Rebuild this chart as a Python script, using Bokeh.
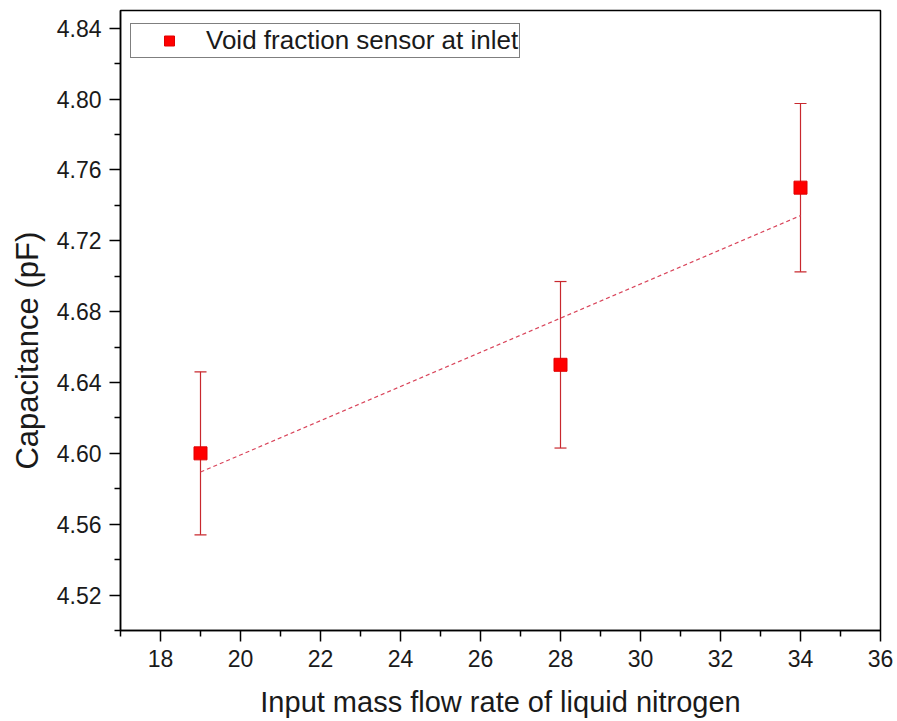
import numpy as np
from bokeh.plotting import figure
from bokeh.models import (ColumnDataSource, Whisker, TeeHead, FixedTicker,
                          PrintfTickFormatter, Legend, LegendItem, Range1d)
from bokeh.embed import file_html
from bokeh.resources import INLINE

# ---- data ----
flow_rate = [19, 28, 34]
capacitance = [4.60, 4.65, 4.75]
cap_error = [0.046, 0.047, 0.0475]
x_ticks = [18, 20, 22, 24, 26, 28, 30, 32, 34, 36]
x_minor = [17, 19, 21, 23, 25, 27, 29, 31, 33, 35]
y_ticks = [4.52, 4.56, 4.60, 4.64, 4.68, 4.72, 4.76, 4.80, 4.84]
y_minor = [4.50, 4.54, 4.58, 4.62, 4.66, 4.70, 4.74, 4.78, 4.82]
series_name = "Void fraction sensor at inlet"
x_title = "Input mass flow rate of liquid nitrogen"
y_title = "Capacitance (pF)"

FONT = "Liberation Sans"

p = figure(width=897, height=721, output_backend="svg", toolbar_location=None,
           x_range=Range1d(17, 36), y_range=Range1d(4.50, 4.85),
           min_border_left=120, min_border_right=17, min_border_top=10,
           min_border_bottom=91)
p.background_fill_color = "white"
p.border_fill_color = "white"
p.xgrid.visible = False
p.ygrid.visible = False
p.outline_line_color = "black"
p.outline_line_width = 1.5
p.outline_line_alpha = 1.0

src = ColumnDataSource(dict(
    x=flow_rate, y=capacitance,
    upper=[c + e for c, e in zip(capacitance, cap_error)],
    lower=[c - e for c, e in zip(capacitance, cap_error)],
))

# linear fit
slope, intercept = np.polyfit(flow_rate, capacitance, 1)
fx = [min(flow_rate), max(flow_rate)]
fy = [slope * v + intercept for v in fx]
p.line(fx, fy, line_color="#D9445A", line_width=1.2, line_dash="4 3")

w = Whisker(source=src, base="x", upper="upper", lower="lower",
            line_color="#C8282E", line_width=1.2,
            upper_head=TeeHead(size=12, line_color="#C8282E", line_width=1.2),
            lower_head=TeeHead(size=12, line_color="#C8282E", line_width=1.2))
p.add_layout(w)

r = p.scatter("x", "y", source=src, marker="square", size=13,
              fill_color="#FF0000", line_color="#E00000", line_width=1)

for ax in (p.xaxis[0], p.yaxis[0]):
    ax.axis_line_width = 1.5
    ax.axis_line_color = "black"
    ax.major_tick_line_color = "black"
    ax.minor_tick_line_color = "black"
    ax.major_tick_line_width = 1.5
    ax.minor_tick_line_width = 1.5
    ax.major_tick_in = 0
    ax.minor_tick_in = 0
    ax.major_tick_out = 11
    ax.minor_tick_out = 6
    ax.major_label_text_font = FONT
    ax.major_label_text_font_size = "23px"
    ax.major_label_text_color = "#1a1a1a"
    ax.axis_label_text_font = FONT
    ax.axis_label_text_font_style = "normal"
    ax.axis_label_text_color = "#1a1a1a"

p.xaxis[0].ticker = FixedTicker(ticks=x_ticks, minor_ticks=x_minor)
p.yaxis[0].ticker = FixedTicker(ticks=y_ticks, minor_ticks=y_minor)
p.yaxis[0].formatter = PrintfTickFormatter(format="%.2f")
p.xaxis[0].axis_label = x_title
p.xaxis[0].axis_label_text_font_size = "29px"
p.xaxis[0].major_label_standoff = 8
p.yaxis[0].major_label_standoff = 8
p.xaxis[0].axis_label_standoff = 16

# y title: trailing no-break spaces push the visible text a little below the frame centre
p.yaxis[0].axis_label = y_title + "\u00a0" * 7
p.yaxis[0].axis_label_text_font_size = "31px"
p.yaxis[0].axis_label_standoff = 9

legend = Legend(items=[LegendItem(label=series_name, renderers=[r])],
                location=(10, 572), orientation="vertical")
legend.label_text_font = FONT
legend.label_text_font_size = "26px"
legend.label_text_color = "#1a1a1a"
legend.border_line_color = "black"
legend.border_line_width = 1
legend.background_fill_alpha = 1
legend.padding = 1
legend.margin = 0
legend.glyph_width = 74
legend.glyph_height = 25
legend.label_height = 25
legend.label_standoff = 0
legend.spacing = 0
p.add_layout(legend)

open("out.html", "w").write(file_html(p, INLINE))
